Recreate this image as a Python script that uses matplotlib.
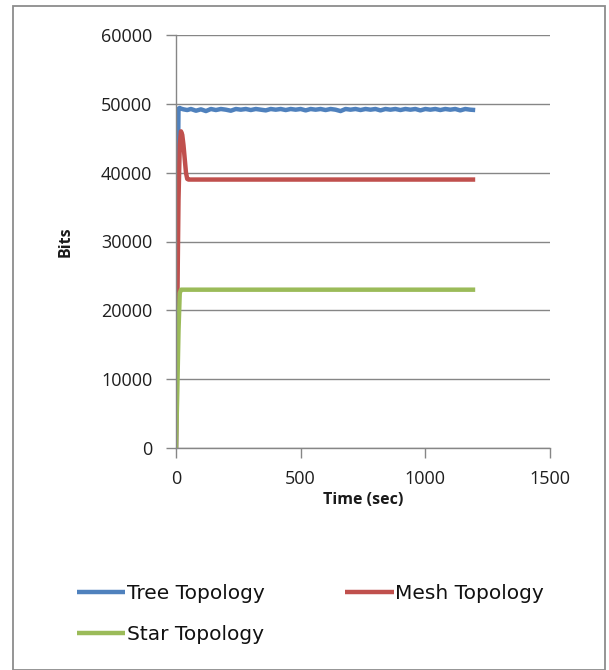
import matplotlib
matplotlib.use("Agg")
import matplotlib.pyplot as plt
from matplotlib.patches import Rectangle

plt.rcParams['font.family'] = ['Open Sans', 'DejaVu Sans']

# Throughput of three network topologies over simulation time
tree_time = [0, 5, 10, 15, 20, 30, 45, 60, 80, 100, 120, 140, 160, 180, 200, 220,
             240, 260, 280, 300, 320, 340, 360, 380, 400, 420, 440, 460, 480, 500,
             520, 540, 560, 580, 600, 620, 640, 660, 680, 700, 720, 740, 760, 780,
             800, 820, 840, 860, 880, 900, 920, 940, 960, 980, 1000, 1020, 1040,
             1060, 1080, 1100, 1120, 1140, 1160, 1180, 1200]
tree_bits = [0, 30000, 49300, 49400, 49300, 49200, 49100, 49250, 49000, 49200, 48950,
             49250, 49100, 49250, 49150, 49000, 49250, 49150, 49250, 49100, 49250,
             49150, 49050, 49250, 49150, 49250, 49100, 49250, 49150, 49250, 49050,
             49250, 49150, 49250, 49100, 49250, 49150, 48950, 49250, 49150, 49250,
             49100, 49250, 49150, 49250, 49050, 49250, 49150, 49250, 49100, 49250,
             49150, 49250, 49050, 49250, 49150, 49250, 49100, 49250, 49150, 49250,
             49050, 49250, 49150, 49100]

mesh_time = [0, 5, 10, 15, 20, 25, 30, 35, 40, 45, 50, 60, 100, 300, 600, 900, 1200]
mesh_bits = [0, 20000, 36000, 44000, 46000, 45500, 44000, 42000, 40000, 39100, 39000,
             39000, 39000, 39000, 39000, 39000, 39000]

star_time = [0, 5, 10, 15, 20, 30, 100, 300, 600, 900, 1200]
star_bits = [0, 8000, 17000, 22500, 23000, 23000, 23000, 23000, 23000, 23000, 23000]

series_names = ["Tree Topology", "Mesh Topology", "Star Topology"]
series_colors = ["#4F81BD", "#C0504D", "#9BBB59"]

x_ticks = [0, 500, 1000, 1500]
y_ticks = [0, 10000, 20000, 30000, 40000, 50000, 60000]

W, H = 609, 670
fig = plt.figure(figsize=(W / 100, H / 100), dpi=100)
fig.patch.set_facecolor("white")

# chart border
fig.add_artist(Rectangle((13 / W, 0), (605 - 13) / W, (H - 6) / H,
                         transform=fig.transFigure, fill=False,
                         edgecolor="#8c8c8c", linewidth=1.3))

ax = fig.add_axes([176 / W, 1 - 448 / H, (550 - 176) / W, (448 - 35) / H])

lines = []
for t, v, name, c in zip([tree_time, mesh_time, star_time],
                         [tree_bits, mesh_bits, star_bits],
                         series_names, series_colors):
    ln, = ax.plot(t, v, color=c, linewidth=3.2, label=name,
                  solid_joinstyle="round", solid_capstyle="butt")
    lines.append(ln)

ax.set_xlim(0, 1500)
ax.set_ylim(0, 60000)
ax.set_xticks(x_ticks)
ax.set_yticks(y_ticks)
ax.set_xticklabels([str(v) for v in x_ticks])
ax.set_yticklabels([str(v) for v in y_ticks])

ax.grid(axis="y", color="#868686", linewidth=1.0)
ax.set_axisbelow(True)
for s in ["top", "right"]:
    ax.spines[s].set_visible(False)
for s in ["left", "bottom"]:
    ax.spines[s].set_color("#868686")
    ax.spines[s].set_linewidth(1.0)

ax.tick_params(axis="both", colors="#868686", labelcolor="#1f1f1f",
               labelsize=13, length=7, width=1.0)
ax.tick_params(axis="y", pad=10)
ax.tick_params(axis="x", pad=9)

ax.set_xlabel("Time (sec)", fontsize=11.5, fontweight="bold", color="#1a1a1a",
              labelpad=3)
ax.set_ylabel("Bits", fontsize=11.5, fontweight="bold", color="#1a1a1a",
              labelpad=20)

# legend filled row by row: Tree, Mesh / Star
leg_handles = [lines[0], lines[2], lines[1]]
fig.legend(handles=leg_handles, loc="upper left",
           bbox_to_anchor=(59 / W, 1 - 566 / H),
           ncol=2, frameon=False, handlelength=2.4,
           prop={"family": ["DejaVu Sans"], "size": 14.5},
           handletextpad=0.08, columnspacing=4.0, labelspacing=1.1,
           labelcolor="#111111")

fig.savefig("out.png", dpi=100)
